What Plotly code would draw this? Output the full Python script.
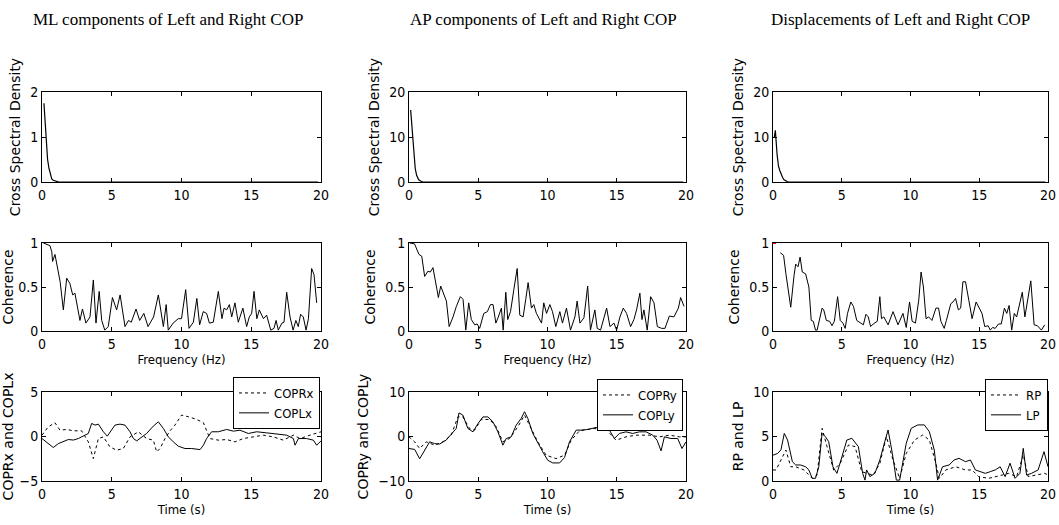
import plotly.graph_objects as go

# ---------------- DATA ----------------
titles = ["ML components of Left and Right COP",
          "AP components of Left and Right COP",
          "Displacements of Left and Right COP"]

# Cross spectral density (row 1)
csd_ml_f = [0.14, 0.2, 0.3, 0.4, 0.5, 0.6, 0.7, 0.8, 1.0, 1.1, 1.2, 19.8]
csd_ml_v = [1.75, 1.5, 0.9, 0.5, 0.3, 0.15, 0.07, 0.04, 0.03, 0.01, 0.0, 0.0]
csd_ap_f = [0.12, 0.2, 0.25, 0.35, 0.45, 0.55, 0.7, 0.9, 1.0, 19.8]
csd_ap_v = [16.0, 13.0, 11.0, 6.0, 3.0, 1.5, 0.5, 0.1, 0.0, 0.0]
csd_d_f = [0.1, 0.17, 0.3, 0.4, 0.5, 0.6, 0.7, 0.8, 1.0, 1.1, 19.8]
csd_d_v = [10.0, 11.5, 6.0, 3.5, 2.5, 1.6, 1.0, 0.5, 0.1, 0.0, 0.0]

# Coherence (row 2)
coh_ml_f = [0.1, 0.57, 0.7, 0.76, 0.93, 1.05, 1.3, 1.53, 1.77, 2.0, 2.2, 2.36, 2.72, 2.9, 3.15,
            3.44, 3.68, 3.87, 4.1, 4.28, 4.5, 4.75, 5.05, 5.35, 5.6, 5.95, 6.2, 6.4, 6.74, 7.0,
            7.3, 7.6, 8.0, 8.34, 8.7, 8.9, 9.05, 9.4, 9.77, 10.0, 10.3, 10.54, 10.85, 11.1, 11.3,
            11.56, 11.8, 12.0, 12.28, 12.64, 12.9, 13.05, 13.24, 13.43, 13.6, 13.83, 14.07, 14.4,
            14.67, 14.86, 15.03, 15.2, 15.4, 15.58, 15.87, 16.1, 16.4, 16.63, 16.78, 16.94, 17.2,
            17.35, 17.54, 17.78, 18.0, 18.2, 18.37, 18.54, 18.73, 18.93, 19.1, 19.33, 19.5, 19.69]
coh_ml_v = [1.0, 0.97, 0.9, 0.79, 0.87, 0.77, 0.56, 0.24, 0.6, 0.54, 0.41, 0.43, 0.12, 0.25, 0.09,
            0.16, 0.58, 0.09, 0.45, 0.12, 0.01, 0.05, 0.38, 0.24, 0.41, 0.05, 0.12, 0.1, 0.25, 0.12,
            0.2, 0.05, 0.16, 0.41, 0.05, 0.3, 0.01, 0.09, 0.14, 0.14, 0.47, 0.03, 0.1, 0.37, 0.07,
            0.22, 0.2, 0.09, 0.1, 0.45, 0.14, 0.26, 0.24, 0.3, 0.16, 0.32, 0.1, 0.26,
            0.05, 0.16, 0.2, 0.45, 0.14, 0.24, 0.14, 0.18, 0.01, 0.03, 0.12, 0.01, 0.09,
            0.1, 0.44, 0.16, 0.01, 0.12, 0.05, 0.19, 0.16, 0.01, 0.14, 0.71, 0.64, 0.32]

coh_ap_f = [0.05, 0.4, 0.72, 0.92, 1.13, 1.37, 1.54, 1.73, 2.02, 2.12, 2.29, 2.46, 2.7, 2.9, 3.18,
            3.42, 3.71, 3.9, 4.1, 4.31, 4.5, 4.75, 4.92, 5.1, 5.4, 5.66, 5.88, 6.07, 6.27, 6.43,
            6.67, 6.8, 6.99, 7.13, 7.33, 7.57, 7.81, 8.0, 8.24, 8.43, 8.6, 8.84, 9.01, 9.2, 9.57,
            9.73, 9.93, 10.17, 10.36, 10.6, 10.89, 11.08, 11.37, 11.66, 11.98, 12.14, 12.34, 12.63,
            12.9, 13.1, 13.42, 13.59, 13.83, 14.27, 14.51, 14.8, 14.99, 15.23, 15.47, 15.71, 16.0,
            16.24, 16.43, 16.67, 16.82, 16.96, 17.2, 17.45, 17.69, 17.93, 18.24, 18.48, 18.8, 19.13,
            19.45, 19.61, 19.86]
coh_ap_v = [1.0, 0.99, 0.87, 0.85, 0.62, 0.68, 0.67, 0.72, 0.47, 0.38, 0.51, 0.43, 0.34, 0.05, 0.16,
            0.28, 0.39, 0.36, 0.01, 0.32, 0.13, 0.07, 0.08, 0.03, 0.2, 0.22, 0.3, 0.3, 0.09, 0.15,
            0.26, 0.01, 0.44, 0.13, 0.22, 0.47, 0.71, 0.18, 0.16, 0.36, 0.55, 0.26, 0.3, 0.2, 0.09,
            0.32, 0.2, 0.3, 0.22, 0.05, 0.22, 0.09, 0.26, 0.01, 0.16, 0.34, 0.09, 0.15,
            0.51, 0.01, 0.24, 0.03, 0.01, 0.26, 0.05, 0.09, 0.01, 0.16, 0.26, 0.2, 0.05,
            0.13, 0.24, 0.43, 0.13, 0.24, 0.01, 0.39, 0.32, 0.05, 0.03, 0.03, 0.17, 0.16,
            0.26, 0.38, 0.28]

coh_d_f = [0.53, 0.77, 0.94, 1.17, 1.29, 1.53, 1.65, 1.82, 1.97, 2.13, 2.37, 2.61, 2.78, 2.93, 3.09,
           3.21, 3.57, 3.69, 3.88, 4.12, 4.29, 4.46, 4.7, 4.89, 5.08, 5.25, 5.42, 5.66, 5.85, 6.09,
           6.33, 6.57, 6.76, 6.93, 7.1, 7.29, 7.58, 7.77, 7.89, 8.06, 8.37, 8.73, 9.09, 9.45, 9.69,
           9.93, 10.12, 10.36, 10.6, 10.77, 10.94, 11.13, 11.32, 11.56, 11.85, 12.04, 12.21, 12.45,
           12.61, 12.93, 13.09, 13.28, 13.48, 13.65, 13.81, 14.0, 14.24, 14.48, 14.77, 14.96, 15.2,
           15.4, 15.64, 15.8, 15.97, 16.16, 16.4, 16.6, 16.83, 17.0, 17.17, 17.36, 17.55, 17.72,
           17.96, 18.13, 18.32, 18.56, 18.75, 18.99, 19.23, 19.52, 19.76]
coh_d_v = [0.89, 0.86, 0.65, 0.39, 0.27, 0.63, 0.76, 0.73, 0.84, 0.67, 0.65, 0.5, 0.12, 0.11, 0.01,
           0.01, 0.26, 0.24, 0.12, 0.11, 0.06, 0.11, 0.39, 0.12, 0.09, 0.03, 0.2, 0.33, 0.28, 0.12,
           0.09, 0.07, 0.19, 0.16, 0.05, 0.08, 0.11, 0.39, 0.14, 0.16, 0.07, 0.22, 0.07, 0.2, 0.04,
           0.33, 0.11, 0.09, 0.35, 0.67, 0.5, 0.14, 0.16, 0.12, 0.26, 0.26, 0.11, 0.03,
           0.12, 0.31, 0.33, 0.37, 0.24, 0.26, 0.56, 0.56, 0.35, 0.14, 0.33, 0.27, 0.2,
           0.05, 0.06, 0.01, 0.04, 0.03, 0.08, 0.08, 0.26, 0.2, 0.29, 0.01, 0.2, 0.16,
           0.33, 0.44, 0.16, 0.39, 0.57, 0.07, 0.06, 0.01, 0.07]
coh_d_red_f = [0.0, 0.3]
coh_d_red_v = [1.0, 1.0]

# Time series (row 3)
copl_x_t = [0, 0.33, 0.81, 1.17, 1.53, 1.89, 2.25, 2.6, 3.08, 3.32, 3.56, 3.8, 4.04, 4.4, 4.68, 5.0,
            5.23, 5.59, 5.95, 6.31, 6.55, 6.79, 7.15, 7.5, 7.98, 8.34, 8.7, 9.06, 9.41, 9.77, 10.25,
            10.73, 11.33, 11.57, 11.8, 12.16, 12.64, 13.24, 13.72, 14.19, 14.79, 15.39, 16.1, 16.82,
            17.54, 18.02, 18.14, 18.38, 18.97, 19.45, 19.69, 20]
copl_x_v = [-0.23, -0.6, -1.24, -0.8, -0.6, -0.34, -0.4, -0.23, 0.15, 0.34, 1.47, 1.28, 1.39, 0.53,
            0.04, 0.71, 1.28, 1.39, 1.28, 0.53, -0.23, -0.49, -0.04, 0.34, 1.17, 1.65, 0.9, -0.04,
            -0.6, -1.09, -1.35, -1.35, -1.47, -0.98, -0.23, 0.53, 0.53, 0.79, 0.6, 0.71, 0.34, 0.53,
            0.41, 0.26, 0.15, -0.23, -0.98, -0.23, -0.23, -0.41, -0.98, -0.49]
copr_x_t = [0, 0.45, 0.93, 1.29, 1.77, 2.25, 2.84, 3.32, 3.68, 4.04, 4.4, 4.87, 5.35, 5.83, 6.31,
            6.91, 7.5, 7.98, 8.22, 8.46, 8.82, 9.18, 9.53, 10.01, 10.49, 11.09, 11.57, 12.04, 12.64,
            13.24, 13.84, 14.43, 15.15, 15.86, 16.58, 17.3, 18.02, 18.5, 19.21, 20]
copr_x_v = [0.15, 1.09, 1.54, 0.71, 0.79, 0.64, 0.64, -0.6, -2.48, -0.23, -0.04, -1.17, -1.54, -1.35,
            -0.04, 0.53, -0.23, -0.41, -1.73, -1.35, -0.23, 0.64, 1.28, 2.41, 2.22, 1.92, 1.54, -0.23,
            -0.41, -0.34, -0.6, -0.23, -0.04, 0.15, -0.04, -0.41, 0.15, -0.23, 0.15, 0.53]

copl_y_t = [0, 0.41, 0.77, 1.13, 1.49, 1.85, 2.21, 2.69, 3.17, 3.41, 3.61, 3.89, 4.25, 4.62, 4.98,
            5.34, 5.7, 6.06, 6.42, 6.78, 7.02, 7.38, 7.74, 8.1, 8.34, 8.58, 8.94, 9.3, 9.66, 10.02,
            10.38, 10.87, 11.23, 11.59, 12.07, 12.43, 12.91, 13.51, 14.11, 14.47, 14.83, 15.19, 15.67,
            16.15, 16.63, 17.12, 17.6, 17.91, 18.2, 18.44, 18.92, 19.4, 19.71, 20]
copl_y_v = [-2.7, -2.9, -5.0, -3.1, -1.2, -1.6, -1.7, -0.8, 1.05, 1.8, 5.3, 4.8, 1.8, 1.05, 2.9,
            4.4, 4.4, 3.3, 1.05, -1.95, -0.45, -0.08, 2.56, 4.06, 5.56, 4.06, 0.68, -1.58, -3.46,
            -5.34, -5.94, -5.94, -4.74, -1.2, 1.43, 1.43, 1.58, 2.03, 2.33, 1.43, -0.45, 0.68, 1.05,
            0.68, 1.05, 1.05, 0.3, -0.83, -3.23, -0.08, -0.45, -0.45, -2.7, -1.2]
copr_y_t = [0, 0.41, 0.77, 1.25, 1.85, 2.45, 3.05, 3.53, 3.89, 4.37, 4.74, 5.22, 5.82, 6.3, 6.78,
            7.26, 7.86, 8.34, 8.82, 9.3, 9.9, 10.62, 11.23, 11.71, 12.31, 13.27, 14.23, 14.95, 15.67,
            16.39, 17.36, 18.08, 18.8, 19.52, 20]
copr_y_v = [-0.08, -1.2, -2.7, -1.2, -1.95, -1.2, 0.3, 4.43, 4.43, 1.8, 1.43, 3.83, 3.83, 2.18, -1.2,
            -0.45, 2.18, 4.81, 1.8, -1.2, -4.21, -4.96, -4.21, -0.83, 1.28, 1.8, 1.58, -0.83, -0.08,
            0.3, 0.3, -0.08, 0.3, -0.08, -0.08]

lp_t = [0, 0.34, 0.58, 0.82, 1.06, 1.41, 1.65, 2.01, 2.37, 2.61, 2.85, 3.09, 3.33, 3.57, 3.81, 4.05,
        4.36, 4.65, 5.01, 5.37, 5.73, 6.21, 6.52, 6.69, 6.81, 7.05, 7.41, 7.77, 8.13, 8.37, 8.68,
        8.97, 9.21, 9.45, 9.69, 10.05, 10.53, 11.01, 11.37, 11.73, 11.97, 12.33, 12.81, 13.17,
        13.53, 14.0, 14.36, 14.72, 15.08, 15.44, 15.8, 16.16, 16.52, 16.88, 17.24, 17.6, 17.96,
        18.2, 18.44, 18.8, 19.28, 19.71, 20]
lp_v = [2.9, 3.1, 3.5, 5.35, 4.6, 2.17, 1.8, 1.8, 1.6, 1.24, 0.3, 0.3, 1.6, 5.35, 4.98, 4.42,
        1.6, 0.86, 2.7, 4.6, 4.8, 3.86, 0.86, 0.1, 1.24, 0.49, 0.86, 2.36, 4.42, 5.73, 3.1,
        0.1, 0.1, 2.36, 4.23, 5.92, 6.3, 6.3, 5.54, 3.48, 0.1, 1.6, 1.8, 2.36,
        2.55, 2.17, 2.36, 1.24, 1.05, 0.86, 1.05, 1.24, 1.6, 0.49, 2.0, 0.3, 0.86,
        3.67, 0.67, 0.86, 1.24, 3.3, 1.6]
rp_t = [0, 0.22, 0.58, 0.94, 1.29, 1.65, 2.25, 2.85, 3.21, 3.57, 3.93, 4.41, 4.89, 5.49, 5.97, 6.45,
        6.81, 7.29, 7.77, 8.25, 8.73, 9.21, 9.69, 10.29, 10.89, 11.37, 11.85, 12.09, 12.57, 13.29,
        14.0, 14.48, 14.96, 15.68, 16.4, 17.12, 17.72, 18.2, 18.56, 19.28, 19.76, 20]
rp_v = [1.24, 1.24, 2.36, 3.48, 1.6, 1.6, 1.24, 0.3, 0.67, 5.92, 3.86, 1.24, 1.98, 4.05, 3.86, 1.05,
        0.86, 0.67, 1.98, 4.98, 2.36, 0.3, 3.1, 4.6, 5.17, 4.6, 1.98, 0.3, 1.24, 1.6,
        1.24, 1.24, 0.49, 0.3, 0.56, 0.86, 0.49, 2.92, 0.49, 0.67, 0.86, 0.67]

csd_ranges = [[0, 2], [0, 20], [0, 20]]
csd_ticks = [[0, 1, 2], [0, 10, 20], [0, 10, 20]]
ts_ranges = [[-5, 5], [-10, 10], [0, 10]]
ts_ticks = [[-5, 0, 5], [-10, 0, 10], [0, 5, 10]]
ts_ylabels = ["COPRx and COPLx", "COPRy and COPLy", "RP and LP"]
ts_names = [("COPRx", "COPLx"), ("COPRy", "COPLy"), ("RP", "LP")]
x_ticks = [0, 5, 10, 15, 20]

# ---------------- LAYOUT ----------------
W, H = 1059, 525
col_px = [(42, 321), (409, 686), (773, 1048)]
row_px = [(92, 182), (243, 331), (392, 481)]
title_cx = [168, 543, 900]
legend_right = [320, 683, 1048]
legend_top = [377, 379, 379]

NARROW = "Liberation Sans Narrow, DejaVu Sans Condensed, Arial Narrow, sans-serif"
TICKFONT = dict(family=NARROW, size=14, color="black")
LABFONT = dict(family=NARROW, size=13, color="black")
YTFONT = dict(family="DejaVu Sans, Arial, sans-serif", size=14, color="black")

fig = go.Figure()

csd = [(csd_ml_f, csd_ml_v), (csd_ap_f, csd_ap_v), (csd_d_f, csd_d_v)]
coh = [(coh_ml_f, coh_ml_v), (coh_ap_f, coh_ap_v), (coh_d_f, coh_d_v)]
ts = [((copr_x_t, copr_x_v), (copl_x_t, copl_x_v)),
      ((copr_y_t, copr_y_v), (copl_y_t, copl_y_v)),
      ((rp_t, rp_v), (lp_t, lp_v))]

def axname(i):
    return "" if i == 1 else str(i)

for c in range(3):
    for r in range(3):
        idx = r * 3 + c + 1
        xa = "x" + axname(idx)
        ya = "y" + axname(idx)
        x0, x1 = col_px[c]
        y0, y1 = row_px[r]
        common = dict(showline=True, linecolor="black", linewidth=1, mirror="allticks",
                      ticks="inside", ticklen=4, tickcolor="black", tickwidth=1,
                      showgrid=False, zeroline=False, tickfont=TICKFONT, automargin=False,
                      ticklabeloverflow="allow")
        xkw = dict(common, domain=[x0 / W, x1 / W], anchor=ya, range=[0, 20],
                   tickvals=x_ticks)
        if r == 1:
            xkw["title"] = dict(text="Frequency (Hz)", font=LABFONT, standoff=2)
        if r == 2:
            xkw["title"] = dict(text="Time (s)", font=LABFONT, standoff=2)
        if r == 0:
            yr, yt, ylab = csd_ranges[c], csd_ticks[c], "Cross Spectral Density"
        elif r == 1:
            yr, yt, ylab = [0, 1], [0, 0.5, 1], "Coherence"
        else:
            yr, yt, ylab = ts_ranges[c], ts_ticks[c], ts_ylabels[c]
        ykw = dict(common, domain=[1 - y1 / H, 1 - y0 / H], anchor=xa, range=yr,
                   tickvals=yt, title=dict(text=ylab, font=YTFONT, standoff=6))
        fig.layout["xaxis" + axname(idx)] = xkw
        fig.layout["yaxis" + axname(idx)] = ykw

        if r == 0:
            f, v = csd[c]
            fig.add_trace(go.Scatter(x=f, y=v, mode="lines", xaxis=xa, yaxis=ya,
                                     line=dict(color="black", width=1.2), showlegend=False))
        elif r == 1:
            f, v = coh[c]
            fig.add_trace(go.Scatter(x=f, y=v, mode="lines", xaxis=xa, yaxis=ya,
                                     line=dict(color="black", width=1), showlegend=False))
            if c == 2:
                fig.add_trace(go.Scatter(x=coh_d_red_f, y=coh_d_red_v, mode="lines",
                                         xaxis=xa, yaxis=ya, cliponaxis=False,
                                         line=dict(color="red", width=2, dash="dot"),
                                         showlegend=False))
        else:
            (rt, rv), (lt, lv) = ts[c]
            leg = "legend" if c == 0 else "legend" + str(c + 1)
            fig.add_trace(go.Scatter(x=rt, y=rv, mode="lines", xaxis=xa, yaxis=ya,
                                     name=ts_names[c][0], legend=leg,
                                     line=dict(color="black", width=1, dash="dot")))
            fig.add_trace(go.Scatter(x=lt, y=lv, mode="lines", xaxis=xa, yaxis=ya,
                                     name=ts_names[c][1], legend=leg,
                                     line=dict(color="black", width=1)))

for c in range(3):
    key = "legend" if c == 0 else "legend" + str(c + 1)
    fig.layout[key] = dict(x=legend_right[c] / W, y=1 - legend_top[c] / H,
                           xanchor="right", yanchor="top", bgcolor="white",
                           bordercolor="black", borderwidth=1,
                           font=dict(family=NARROW, size=13, color="black"),
                           itemwidth=30, tracegroupgap=0)

for c in range(3):
    fig.add_annotation(text=titles[c], x=title_cx[c] / W, y=1 - 20 / H, xref="paper",
                       yref="paper", xanchor="center", yanchor="middle", showarrow=False,
                       font=dict(family="Liberation Serif, Times New Roman, serif", size=17,
                                 color="black"))

fig.update_layout(width=W, height=H, margin=dict(l=0, r=0, t=0, b=0, autoexpand=False),
                  paper_bgcolor="white", plot_bgcolor="white", hovermode=False)

fig.write_html("out.html", config={"displayModeBar": False},
               post_script="document.body.style.margin='0';document.body.style.overflow='hidden';")
